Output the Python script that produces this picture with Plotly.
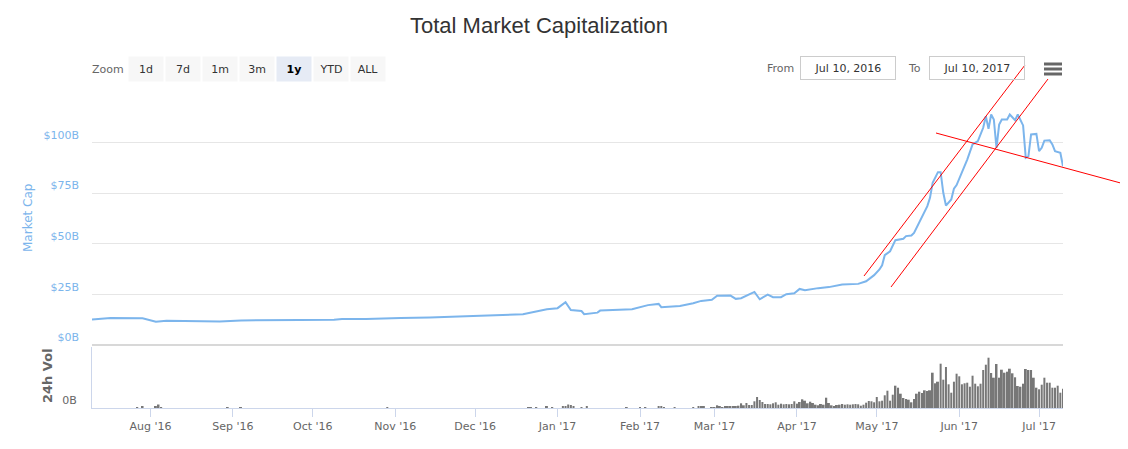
import pandas as pd
import plotly.graph_objects as go

# total market cap, $B
cap_dates = [
    "2016-07-10", "2016-07-17", "2016-07-29", "2016-08-03", "2016-08-07", "2016-08-15",
    "2016-08-27", "2016-09-04", "2016-09-14", "2016-09-26", "2016-10-09", "2016-10-12",
    "2016-10-21", "2016-10-26", "2016-11-03", "2016-11-14", "2016-11-20", "2016-12-03",
    "2016-12-19", "2016-12-23", "2016-12-28", "2017-01-01", "2017-01-04", "2017-01-06",
    "2017-01-10", "2017-01-11", "2017-01-16", "2017-01-17", "2017-01-22", "2017-01-29",
    "2017-02-04", "2017-02-08", "2017-02-09", "2017-02-16", "2017-02-21", "2017-02-24",
    "2017-02-28", "2017-03-02", "2017-03-07", "2017-03-09", "2017-03-11", "2017-03-16",
    "2017-03-18", "2017-03-21", "2017-03-23", "2017-03-26", "2017-03-28", "2017-03-31",
    "2017-04-02", "2017-04-04", "2017-04-09", "2017-04-13", "2017-04-18", "2017-04-24",
    "2017-04-27", "2017-04-30", "2017-05-02", "2017-05-03", "2017-05-04", "2017-05-06",
    "2017-05-08", "2017-05-11", "2017-05-12", "2017-05-14", "2017-05-15", "2017-05-17",
    "2017-05-18", "2017-05-20", "2017-05-21", "2017-05-22", "2017-05-24", "2017-05-25",
    "2017-05-26", "2017-05-27", "2017-05-29", "2017-05-30", "2017-05-31", "2017-06-02",
    "2017-06-04", "2017-06-06", "2017-06-08", "2017-06-10", "2017-06-11", "2017-06-12",
    "2017-06-13", "2017-06-14", "2017-06-15", "2017-06-16", "2017-06-17", "2017-06-19",
    "2017-06-20", "2017-06-22", "2017-06-23", "2017-06-25", "2017-06-26", "2017-06-27",
    "2017-06-28", "2017-06-30", "2017-07-01", "2017-07-02", "2017-07-03", "2017-07-05",
    "2017-07-06", "2017-07-07", "2017-07-09", "2017-07-10",
]
cap_values = [
    12.6, 13.3, 13.2, 11.5, 12.0, 11.7,
    11.6, 12.1, 12.4, 12.4, 12.5, 12.8,
    12.9, 13.2, 13.4, 13.6, 14.0, 14.5,
    15.2, 16.3, 17.7, 18.2, 21.1, 17.3,
    16.8, 15.2, 16.0, 17.0, 17.3, 17.7,
    19.7, 20.3, 18.7, 19.3, 20.6, 21.8,
    22.3, 24.3, 24.4, 22.8, 23.1, 26.2,
    22.6, 24.9, 23.6, 23.6, 25.1, 25.6,
    27.7, 27.1, 28.1, 28.6, 29.9, 30.2,
    31.5, 34.5, 37.3, 39.4, 44.4, 46.3,
    51.8, 52.5, 53.8, 54.1, 55.4, 60.4,
    63.6, 68.6, 72.7, 80.1, 85.4, 85.4,
    75.2, 68.9, 71.9, 77.2, 79.0, 85.1,
    91.6, 99.1, 100.7, 107.3, 113.0, 106.8,
    113.9, 111.4, 97.4, 108.9, 111.4, 111.4,
    113.9, 111.1, 113.9, 108.5, 92.5, 93.3,
    104.0, 104.3, 95.8, 97.4, 101.0, 101.2,
    99.1, 95.8, 95.0, 88.3,
]

# 24h volume, $B: a few scattered early bars
early_vol_dates = [
    "2016-07-27", "2016-07-29", "2016-08-03", "2016-08-04", "2016-08-05", "2016-08-30",
    "2016-09-04", "2016-10-29", "2016-12-21", "2016-12-22", "2016-12-24", "2016-12-28",
    "2016-12-30", "2017-01-03", "2017-01-04", "2017-01-05", "2017-01-06", "2017-01-07",
    "2017-01-10", "2017-01-12", "2017-01-27", "2017-02-01", "2017-02-03",
]
early_vol = [
    0.1, 0.15, 0.15, 0.35, 0.1, 0.1,
    0.1, 0.1, 0.1, 0.1, 0.1, 0.15,
    0.1, 0.15, 0.2, 0.35, 0.3, 0.15,
    0.1, 0.15, 0.1, 0.1, 0.1,
]
# then one bar per day from Feb 8 2017
daily_vol_start = "2017-02-08"
daily_vol = [
    0.13, 0.17, 0.1, 0, 0, 0, 0.1, 0, 0, 0, 0, 0, 0, 0.1, 0, 0.13, 0.2, 0.13, 0, 0,
    0.1, 0.1, 0.27, 0.2, 0.1, 0.13, 0.13, 0.2, 0.2, 0.2, 0.23, 0.47, 0.27, 0.5, 0.3, 0.3,
    0.67, 1.1, 0.8, 0.6, 0.4, 0.4, 0.37, 0.47, 0.57, 0.33, 0.43, 0.37, 0.4, 0.37, 0.4,
    0.67, 0.43, 0.6, 0.87, 0.73, 0.47, 0.63, 0.5, 0.33, 0.27, 0.4, 0.33, 1.03, 0.5, 0.27,
    0.2, 0.3, 0.33, 0.4, 0.33, 0.37, 0.33, 0.37, 0.4, 0.37,
    0.23, 0.33, 0.53, 0.70, 0.67, 0.57, 1.10, 0.67, 0.73, 1.27, 1.73, 0.73, 1.33, 2.23,
    2.03, 1.43, 1.00, 0.90, 0.83, 0.57, 0.90, 1.43, 1.63, 1.50, 1.77, 1.70, 1.77, 3.53,
    2.47, 2.63, 4.43, 2.83, 4.10, 2.37, 1.53, 2.63, 3.43, 3.17, 2.37, 2.47, 2.53, 2.13,
    3.23, 2.43, 2.17, 2.43, 3.80, 4.33, 5.03, 3.50, 3.03, 4.40, 3.03, 3.83, 3.53, 3.63,
    3.93, 3.47, 3.07, 2.20, 2.13, 2.43, 3.90, 3.80, 3.80, 3.03, 2.03, 1.87, 2.33, 3.03,
    2.53, 2.53, 2.03, 2.03, 2.23, 1.53, 1.93,
]

cap_ticks = [0, 25, 50, 75, 100, 125]
cap_tick_text = ["$0B", "$25B", "$50B", "$75B", "$100B", ""]
zoom_buttons = ["1d", "7d", "1m", "3m", "1y", "YTD", "ALL"]
date_from, date_to = "Jul 10, 2016", "Jul 10, 2017"

W, H = 1128, 449
OFF = 8  # page body margin
PL, PR, PT, PB = 92, 1063, 92, 408  # plot area as seen on screen
SMALL = "DejaVu Sans"


def px(x):
    return (x - PL) / (PR - PL)


def py(y):
    return (PB - y) / (PB - PT)


vol_x = list(pd.to_datetime(early_vol_dates)) + list(pd.date_range(daily_vol_start, periods=len(daily_vol)))
vol_y = early_vol + daily_vol

fig = go.Figure()
fig.add_trace(go.Scatter(x=pd.to_datetime(cap_dates), y=cap_values, mode="lines",
                         line=dict(color="#7cb5ec", width=2), yaxis="y", name="Market Cap"))
fig.add_trace(go.Bar(x=vol_x, y=vol_y, marker=dict(color="#777777", line_width=0),
                     yaxis="y2", name="24h Vol"))

fig.update_layout(
    width=W, height=H,
    margin=dict(l=PL - OFF, r=W - (PR - OFF), t=PT - OFF, b=H - (PB - OFF)),
    paper_bgcolor="white", plot_bgcolor="white", showlegend=False, bargap=0.25,
    font=dict(family=SMALL, size=11, color="#666666"),
    title=dict(text="Total Market Capitalization", x=(539 - OFF) / W, xref="container",
               xanchor="center", y=1 - (25 - OFF) / H, yref="container", yanchor="middle",
               font=dict(family="Liberation Sans", size=22, color="#333333")),
    xaxis=dict(type="date", range=["2016-07-10", "2017-07-10"], anchor="y2",
               tickformat="%b '%y", dtick="M1", tick0="2016-08-01", ticks="outside",
               ticklen=8, tickcolor="#ccd6eb", showline=True, linecolor="#ccd6eb",
               showgrid=False, zeroline=False, tickfont=dict(size=11, color="#666666")),
    yaxis=dict(domain=[py(345), 1], range=[0, 125], tickvals=cap_ticks, ticktext=cap_tick_text,
               gridcolor="#e6e6e6", zeroline=True, zerolinecolor="#d8d8d8", zerolinewidth=2,
               ticklabelposition="outside top", ticklabelstandoff=12,
               tickfont=dict(size=11, color="#7cb5ec"), showline=False),
    yaxis2=dict(domain=[0, py(347)], range=[0, 6.1], tickvals=[0], ticktext=["0B"],
                showgrid=False, zeroline=False, showline=True, linecolor="#ccd6eb",
                ticklabelposition="outside top", ticklabelstandoff=12,
                tickfont=dict(size=11, color="#666666")),
)

ann = []
# axis titles
ann.append(dict(text="Market Cap", x=px(28), y=py(218), textangle=-90,
                font=dict(size=12, color="#7cb5ec")))
ann.append(dict(text="<b>24h Vol</b>", x=px(47), y=py(376), textangle=-90,
                font=dict(size=13, color="#666666")))
# range selector
ann.append(dict(text="Zoom", x=px(108), y=py(69), font=dict(size=11, color="#666666")))
for i, b in enumerate(zoom_buttons):
    active = b == "1y"
    ann.append(dict(text="<b>%s</b>" % b if active else b, x=px(146 + 37 * i), y=py(69),
                    width=32, height=22, bgcolor="#e6ebf5" if active else "#f7f7f7",
                    font=dict(size=11, color="#000000" if active else "#333333")))
# date inputs
ann.append(dict(text="From", x=px(780), y=py(68), font=dict(size=11, color="#666666")))
ann.append(dict(text=date_from, x=px(848), y=py(68), width=92, height=20,
                bordercolor="#cccccc", borderwidth=1, font=dict(size=11, color="#333333")))
ann.append(dict(text="To", x=px(914), y=py(68), font=dict(size=11, color="#666666")))
ann.append(dict(text=date_to, x=px(977), y=py(68), width=92, height=20,
                bordercolor="#cccccc", borderwidth=1, font=dict(size=11, color="#333333")))
for a in ann:
    a.update(xref="paper", yref="paper", showarrow=False, xanchor="center", yanchor="middle")
fig.update_layout(annotations=ann)

shapes = []
# hamburger menu
for yy in (64, 69, 74):
    shapes.append(dict(type="line", x0=px(1044), x1=px(1062), y0=py(yy), y1=py(yy),
                       line=dict(color="#666666", width=3)))
# hand-drawn red trend lines
for x0, y0, x1, y1 in [(864, 276, 1025, 65), (891, 287, 1048, 79), (936, 133, 1128, 185)]:
    shapes.append(dict(type="line", x0=px(x0), y0=py(y0), x1=px(x1), y1=py(y1),
                       line=dict(color="#ff0000", width=1)))
for s in shapes:
    s.update(xref="paper", yref="paper", layer="above")
fig.update_layout(shapes=shapes)

fig.write_html("out.html")
